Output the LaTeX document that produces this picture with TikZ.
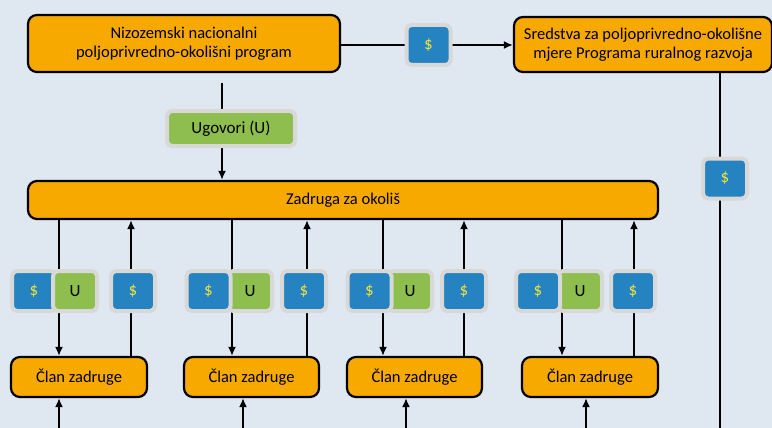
\documentclass[tikz,border=0pt]{standalone}
\usepackage{fontspec}
\setmainfont{Carlito}
\usetikzlibrary{arrows.meta}

\definecolor{bgblue}{HTML}{DFE8F1}
\definecolor{boxorange}{HTML}{F8A900}
\definecolor{tagblue}{HTML}{2583C1}
\definecolor{taggreen}{HTML}{8DBE4E}
\definecolor{tagframe}{HTML}{D8D8D8}
\definecolor{dollar}{HTML}{F2E33A}

\tikzset{
  unit/.style={draw=black, line width=2.2pt, fill=boxorange, rounded corners=9pt,
    align=center, font=\fontsize{16.5}{19}\selectfont, inner sep=2pt},
  tag/.style={draw=tagframe, line width=4pt, rounded corners=5pt,
    minimum width=44pt, minimum height=40pt, inner sep=0pt, font=\fontsize{17}{19}\selectfont},
  money/.style={tag, fill=tagblue, text=dollar},
  deal/.style={tag, fill=taggreen, text=black},
  link/.style={line width=2pt},
  arr/.style={link, -{Latex[length=9pt,width=8pt]}}
}

\begin{document}
\begin{tikzpicture}[x=1pt, y=-1pt]
  \fill[bgblue] (0,0) rectangle (772,428);
  \useasboundingbox (0,0) rectangle (772,428);

  % top row
  \node (prog) [unit, minimum width=312pt, minimum height=57pt] at (184,43.5)
    {Nizozemski nacionalni\\poljoprivredno-okolišni program};
  \node (fund) [unit, minimum width=258pt, minimum height=55pt] at (643,44.5)
    {Sredstva za poljoprivredno-okolišne\\mjere Programa ruralnog razvoja};
  \node (coop) [unit, minimum width=630pt, minimum height=38pt] at (343,200) {Zadruga za okoliš};

  % members
  \node (cl1) [unit, minimum width=136pt, minimum height=40pt] at (79,377) {Član zadruge};
  \node (cl2) [unit, minimum width=135pt, minimum height=40pt] at (251.5,377) {Član zadruge};
  \node (cl3) [unit, minimum width=135pt, minimum height=40pt] at (414.5,377) {Član zadruge};
  \node (cl4) [unit, minimum width=136pt, minimum height=40pt] at (590,377) {Član zadruge};

  \coordinate (u) at (222,128);
  \coordinate (r) at (720,428);
  \coordinate (d1) at (59,291);  \coordinate (p1) at (131,291); \coordinate (b1) at (59,428);
  \coordinate (d2) at (232,291); \coordinate (p2) at (307,291); \coordinate (b2) at (243,428);
  \coordinate (d3) at (383,291); \coordinate (p3) at (464,291); \coordinate (b3) at (406,428);
  \coordinate (d4) at (562,291); \coordinate (p4) at (634,291); \coordinate (b4) at (586,428);

  % connectors
  \draw[arr] (prog.east |- 0,45) -- (fund.west |- 0,45);
  \draw[arr] ([yshift=-10pt]prog.south -| u) -- (u |- coop.north);
  \draw[link] (fund.south -| r) -- (r);
  \foreach \i in {1,2,3,4} {
    \draw[arr] (coop.south -| d\i) -- (d\i |- cl\i.north);
    \draw[arr] (p\i |- cl\i.north) -- (p\i |- coop.south);
    \draw[arr] (b\i) -- (b\i |- cl\i.south);
  }

  % payments and contracts
  \node (paytop) [money] at (428.5,45) {\$};
  \node (ugov) [deal, minimum width=128pt, minimum height=35pt] at (231,128.5) {Ugovori (U)};
  \node (payr) [money] at (725,178.5) {\$};

  \node (m1) [money] at (34,291) {\$};
  \node (c1) [deal] at (75,291) {U};
  \node (q1) [money] at (133,291) {\$};

  \node (c2) [deal] at (250,291) {U};
  \node (m2) [money] at (208.5,291) {\$};
  \node (q2) [money] at (304,291) {\$};

  \node (c3) [deal] at (410,291) {U};
  \node (m3) [money] at (369.5,291) {\$};
  \node (q3) [money] at (464,291) {\$};

  \node (c4) [deal] at (580,291) {U};
  \node (m4) [money] at (538,291) {\$};
  \node (q4) [money] at (633,291) {\$};
\end{tikzpicture}
\end{document}
